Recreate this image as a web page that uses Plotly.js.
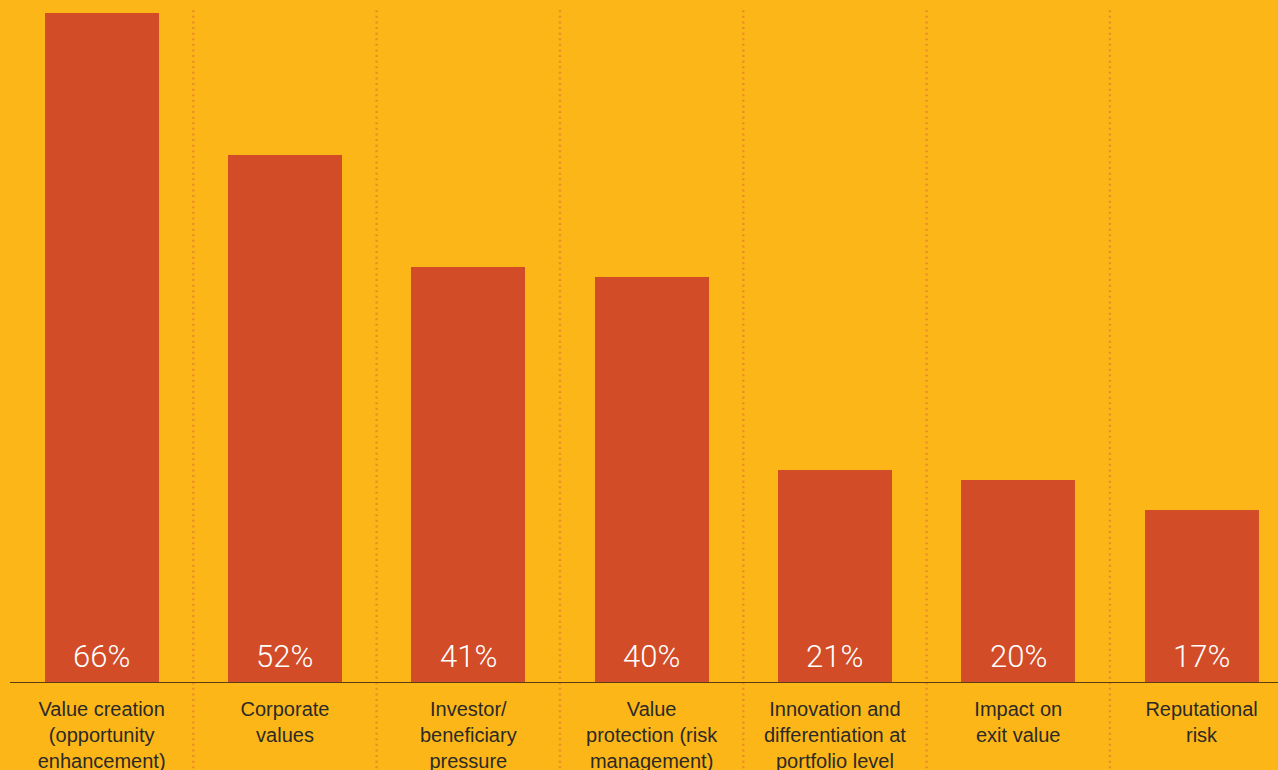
<!DOCTYPE html>
<html>
<head>
<meta charset="utf-8">
<script src="https://cdn.plot.ly/plotly-3.0.1.min.js"></script>
<style>
html,body{margin:0;padding:0;background:#FCB617;overflow:hidden;}
#chart{width:1278px;height:770px;}
</style>
</head>
<body>
<div id="chart"></div>
<script>
var categories = [
  "Value creation<br>(opportunity<br>enhancement)",
  "Corporate<br>values",
  "Investor/<br>beneficiary<br>pressure",
  "Value<br>protection (risk<br>management)",
  "Innovation and<br>differentiation at<br>portfolio level",
  "Impact on<br>exit value",
  "Reputational<br>risk"
];
var values = [66, 52, 41, 40, 21, 20, 17];
var valueLabels = values.map(function(v){ return v + "%"; });

var idx = categories.map(function(c, i){ return i; });

var trace = {
  type: "bar",
  x: idx,
  y: values,
  marker: {color: "#D24C28", line: {width: 0}},
  width: 0.622,
  hoverinfo: "none"
};

var annotations = idx.map(function(i){
  return {
    x: i, y: 0, xref: "x", yref: "y",
    text: valueLabels[i], showarrow: false,
    xanchor: "center", yanchor: "bottom", yshift: 6,
    font: {family: "Roboto, Liberation Sans, sans-serif", size: 31, color: "#ffffff", weight: 300}
  };
});

var shapes = [];
for (var i = 0; i < categories.length - 1; i++) {
  shapes.push({
    type: "line", xref: "x", yref: "paper",
    x0: i + 0.5, x1: i + 0.5, y0: 0.985, y1: -0.2,
    line: {color: "#EA8D28", width: 2.4, dash: "2px,3.6px"}
  });
}
shapes.push({
  type: "line", xref: "paper", yref: "y",
  x0: 0, x1: 1, y0: 0, y1: 0,
  line: {color: "#5E3C14", width: 2}
});

var layout = {
  width: 1278, height: 770,
  margin: {l: 10, r: 0, t: 0, b: 87, pad: 0},
  paper_bgcolor: "#FCB617",
  plot_bgcolor: "#FCB617",
  showlegend: false,
  bargap: 0,
  xaxis: {
    range: [-0.5, 6.417],
    tickmode: "array",
    tickvals: idx,
    ticktext: categories,
    ticks: "",
    ticklabelstandoff: 12,
    showgrid: false, zeroline: false, showline: false,
    tickfont: {family: "Liberation Sans, Arial, sans-serif", size: 20, color: "#2B2A28"},
    fixedrange: true
  },
  yaxis: {
    range: [0, 67.29],
    showticklabels: false, showgrid: false, zeroline: false, showline: false, ticks: "",
    fixedrange: true
  },
  shapes: shapes,
  annotations: annotations
};

Plotly.newPlot("chart", [trace], layout, {displayModeBar: false, staticPlot: true});
</script>
</body>
</html>
